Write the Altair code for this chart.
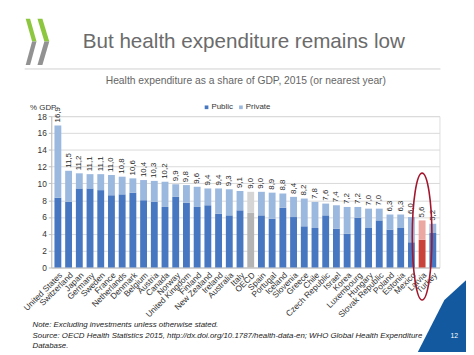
import altair as alt
import pandas as pd

countries = ["United States", "Switzerland", "Japan", "Germany", "Sweden", "France",
             "Netherlands", "Denmark", "Belgium", "Austria", "Canada", "Norway",
             "United Kingdom", "Finland", "New Zealand", "Ireland", "Australia", "Italy",
             "OECD", "Spain", "Portugal", "Iceland", "Slovenia", "Greece", "Chile",
             "Czech Republic", "Israel", "Korea", "Luxembourg", "Hungary",
             "Slovak Republic", "Poland", "Estonia", "Mexico", "Latvia", "Turkey"]
totals = [16.9, 11.5, 11.2, 11.1, 11.1, 11.0, 10.8, 10.6, 10.4, 10.3, 10.2, 9.9,
          9.8, 9.6, 9.4, 9.4, 9.3, 9.1, 9.0, 9.0, 8.9, 8.8, 8.4, 8.2, 7.8, 7.6,
          7.4, 7.2, 7.2, 7.0, 7.0, 6.3, 6.3, 6.0, 5.6, 5.2]
public = [8.3, 7.8, 9.4, 9.4, 9.2, 8.6, 8.7, 8.9, 8.0, 7.8, 7.2, 8.4,
          7.7, 7.2, 7.4, 6.4, 6.2, 6.8, 6.5, 6.2, 5.8, 7.1, 6.0, 4.9, 4.7, 6.2,
          4.6, 4.0, 5.9, 4.7, 5.6, 4.5, 4.7, 3.0, 3.3, 4.1]
y_ticks = [0, 2, 4, 6, 8, 10, 12, 14, 16, 18]

color_domain = ["Public", "Private", "OECD public", "OECD private", "Latvia public", "Latvia private"]
color_range = ["#4677c0", "#9bb8de", "#b4b4b4", "#d5d5d5", "#c9433b", "#eba8a3"]

rows = []
for c, t, p in zip(countries, totals, public):
    if c == "OECD":
        k1, k2 = "OECD public", "OECD private"
    elif c == "Latvia":
        k1, k2 = "Latvia public", "Latvia private"
    else:
        k1, k2 = "Public", "Private"
    rows.append({"country": c, "key": k1, "value": p, "ord": 0})
    rows.append({"country": c, "key": k2, "value": round(t - p, 2), "ord": 1})
bars_df = pd.DataFrame(rows)

lab_df = pd.DataFrame({
    "country": countries,
    "total": totals,
    "label": [f"{t:.1f}".replace(".", ",") for t in totals],
})

FONT = "Arial, 'Liberation Sans', sans-serif"

xaxis = alt.Axis(title=None, labelAngle=-45, labelFontSize=8.5, labelColor="#333333",
                 domainColor="#bfbfbf", ticks=False, labelPadding=3)
xscale = alt.Scale(paddingInner=0.36, paddingOuter=0.3)
yaxis = alt.Axis(title="% GDP", titleAngle=0, titleAlign="left", titleBaseline="alphabetic",
                 titleX=-22, titleY=-7, titleFontWeight="normal", titleFontSize=8,
                 titleColor="#333333", values=y_ticks, labelFontSize=8.5,
                 labelColor="#333333", gridColor="#d9d9d9", domainColor="#bfbfbf",
                 tickColor="#bfbfbf", tickSize=3, labelPadding=2)
yscale = alt.Scale(domain=[0, 18], nice=False)

def xenc():
    return alt.X("country:N", sort=countries, scale=xscale, axis=xaxis)

bars = alt.Chart(bars_df).mark_bar().encode(
    x=xenc(),
    y=alt.Y("value:Q", stack="zero", scale=yscale, axis=yaxis),
    color=alt.Color("key:N", scale=alt.Scale(domain=color_domain, range=color_range),
                    legend=alt.Legend(values=["Public", "Private"], title=None, orient="none",
                                      legendX=154, legendY=-13, direction="horizontal",
                                      symbolType="square", symbolSize=14, symbolStrokeWidth=0,
                                      labelFontSize=8, labelColor="#333333", columnPadding=4,
                                      labelOffset=1, padding=0)),
    order=alt.Order("ord:Q"),
)

labels = alt.Chart(lab_df).mark_text(angle=270, align="left", baseline="middle", dx=3,
                                     fontSize=8, color="#262626").encode(
    x=xenc(),
    y=alt.Y("total:Q", scale=yscale, axis=yaxis),
    text="label:N",
)

# ellipse outline in pixel units (symbol size 4 -> unit scale)
ell_path = ("M0,-64.5 C5.5,-64.5 10,-35.6 10,0 C10,35.6 5.5,64.5 0,64.5 "
            "C-5.5,64.5 -10,35.6 -10,0 C-10,-35.6 -5.5,-64.5 0,-64.5 Z")
ellipse = alt.Chart(lab_df).transform_filter(alt.datum.country == "Latvia").mark_point(
    shape=ell_path, size=4, filled=False, color="#a3162c", strokeWidth=1.6, opacity=1
).encode(x=xenc(), y=alt.value(122.5))


def txt(s, x, y, **kw):
    return alt.Chart(pd.DataFrame({"t": [s]})).mark_text(**kw).encode(
        x=alt.value(x), y=alt.value(y), text="t:N")


title = txt("But health expenditure remains low", 32, -69.5, fontSize=21, color="#6b6b6b",
            align="left", baseline="alphabetic")
subtitle = txt("Health expenditure as a share of GDP, 2015 (or nearest year)", 198, -32.5,
               fontSize=10.5, color="#666666", align="center", baseline="alphabetic")
rule = alt.Chart(pd.DataFrame({"a": [0]})).mark_rule(color="#cfcfcf", strokeWidth=1).encode(
    x=alt.value(-27), x2=alt.value(396), y=alt.value(-48))

note1 = txt("Note: Excluding investments unless otherwise stated.", -19, 215,
            fontSize=8, fontStyle="italic", color="#222222", align="left", baseline="alphabetic")
note2 = txt("Source: OECD Health Statistics 2015, http://dx.doi.org/10.1787/health-data-en; "
            "WHO Global Health Expenditure", -19, 225.5,
            fontSize=8, fontStyle="italic", color="#222222", align="left", baseline="alphabetic")
note3 = txt("Database.", -19, 236, fontSize=8, fontStyle="italic", color="#222222",
            align="left", baseline="alphabetic")

deco_df = pd.DataFrame({
    "path": [
        "M-26,-99 L-21.5,-99 L-15,-76 L-19.5,-76 Z",
        "M-19.5,-76 L-15,-76 L-21.5,-52 L-26,-52 Z",
        "M-14,-99 L-9,-99 L-2,-76 L-7,-76 Z",
        "M-7,-76 L-2,-76 L-9,-52 L-14,-52 Z",
        "M422,167 L422,240 L373,240 L400,187 Z",
    ],
    "col": ["#8dc63f", "#929292", "#8dc63f", "#929292", "#1259a0"],
})
deco = alt.Chart(deco_df).mark_point(filled=True, size=4, opacity=1, strokeWidth=0).encode(
    x=alt.value(0), y=alt.value(0),
    shape=alt.Shape("path:N", scale=None),
    color=alt.Color("col:N", scale=None),
)
pagenum = txt("12", 410, 224, fontSize=7, color="#ffffff", align="center", baseline="middle")

chart = alt.layer(
    rule, deco, title, subtitle, bars, labels, ellipse, note1, note2, note3, pagenum
).properties(
    width=395, height=154,
    padding={"left": 44, "top": 107, "right": 27, "bottom": 86},
    autosize=alt.AutoSizeParams(type="none"),
).configure_view(stroke=None).configure(font=FONT)

chart.save("out.html", embed_options={"renderer": "svg", "actions": False})
